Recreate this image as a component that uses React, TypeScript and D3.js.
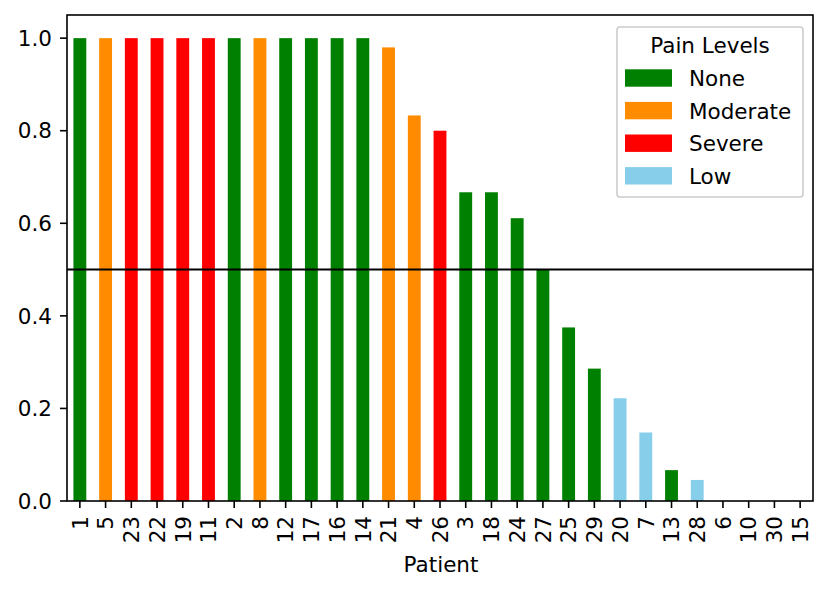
import React from "react";
import * as d3 from "d3";

const patients = ["1","5","23","22","19","11","2","8","12","17","16","14","21","4","26","3","18","24","27","25","29","20","7","13","28","6","10","30","15"];
const values = [1,1,1,1,1,1,1,1,1,1,1,1,0.98,0.833,0.8,0.667,0.667,0.611,0.5,0.375,0.286,0.222,0.148,0.0667,0.0455,0,0,0,0];
const painLevels = ["None","Moderate","Severe","Severe","Severe","Severe","None","Moderate","None","None","None","None","Moderate","Moderate","Severe","None","None","None","None","None","None","Low","Low","None","Low","None","None","None","None"];
const legendLabels = ["None","Moderate","Severe","Low"];
const legendColors = ["#008000","#ff8c00","#ff0000","#87ceeb"];
const yTicks = [0,0.2,0.4,0.6,0.8,1.0];
const threshold = 0.5;

export default function App() {
  const W = 831, H = 592;
  const left = 67, right = 813, top = 15, bottom = 501;
  const x = d3.scaleBand<string>().domain(patients).range([left, right]).paddingInner(0.5).paddingOuter(0.25);
  const y = d3.scaleLinear().domain([0, 1.05]).range([bottom, top]);
  const color = d3.scaleOrdinal<string, string>().domain(legendLabels).range(legendColors);
  const font = "DejaVu Sans, sans-serif";
  const fs = 21.5;
  return (
    <svg width={W} height={H} style={{ position: "absolute", left: 0, top: 0 }} fontFamily={font}>
      <rect width={W} height={H} fill="#fff" />
      {patients.map((p, i) => (
        <rect key={p} x={x(p)} y={y(values[i])} width={x.bandwidth()} height={bottom - y(values[i])} fill={color(painLevels[i])} />
      ))}
      <line x1={left} x2={right} y1={y(threshold)} y2={y(threshold)} stroke="#000" strokeWidth={2} />
      <rect x={left} y={top} width={right - left} height={bottom - top} fill="none" stroke="#000" strokeWidth={1.6} />
      {yTicks.map(t => (
        <g key={t}>
          <line x1={left - 7} x2={left} y1={y(t)} y2={y(t)} stroke="#000" strokeWidth={1.6} />
          <text x={left - 15} y={y(t)} dy="0.36em" textAnchor="end" fontSize={fs} fill="#000">{t.toFixed(1)}</text>
        </g>
      ))}
      {patients.map(p => {
        const cx = (x(p) as number) + x.bandwidth() / 2;
        return (
          <g key={"t" + p}>
            <line x1={cx} x2={cx} y1={bottom} y2={bottom + 7} stroke="#000" strokeWidth={1.6} />
            <text transform={`translate(${cx},${bottom + 15}) rotate(-90)`} textAnchor="end" dy="0.36em" fontSize={fs} fill="#000">{p}</text>
          </g>
        );
      })}
      <text x={441} y={572} textAnchor="middle" fontSize={fs} fill="#000">Patient</text>
      <g>
        <rect x={617} y={27} width={186} height={170} rx={3} fill="#fff" fillOpacity={0.8} stroke="#cccccc" strokeWidth={1.6} />
        <text x={710} y={53} textAnchor="middle" fontSize={fs} fill="#000">Pain Levels</text>
        {legendLabels.map((l, i) => (
          <g key={l}>
            <rect x={625} y={69.3 + i * 32.6} width={47} height={17.4} fill={legendColors[i]} />
            <text x={689} y={86 + i * 32.6} fontSize={fs} fill="#000">{l}</text>
          </g>
        ))}
      </g>
    </svg>
  );
}
